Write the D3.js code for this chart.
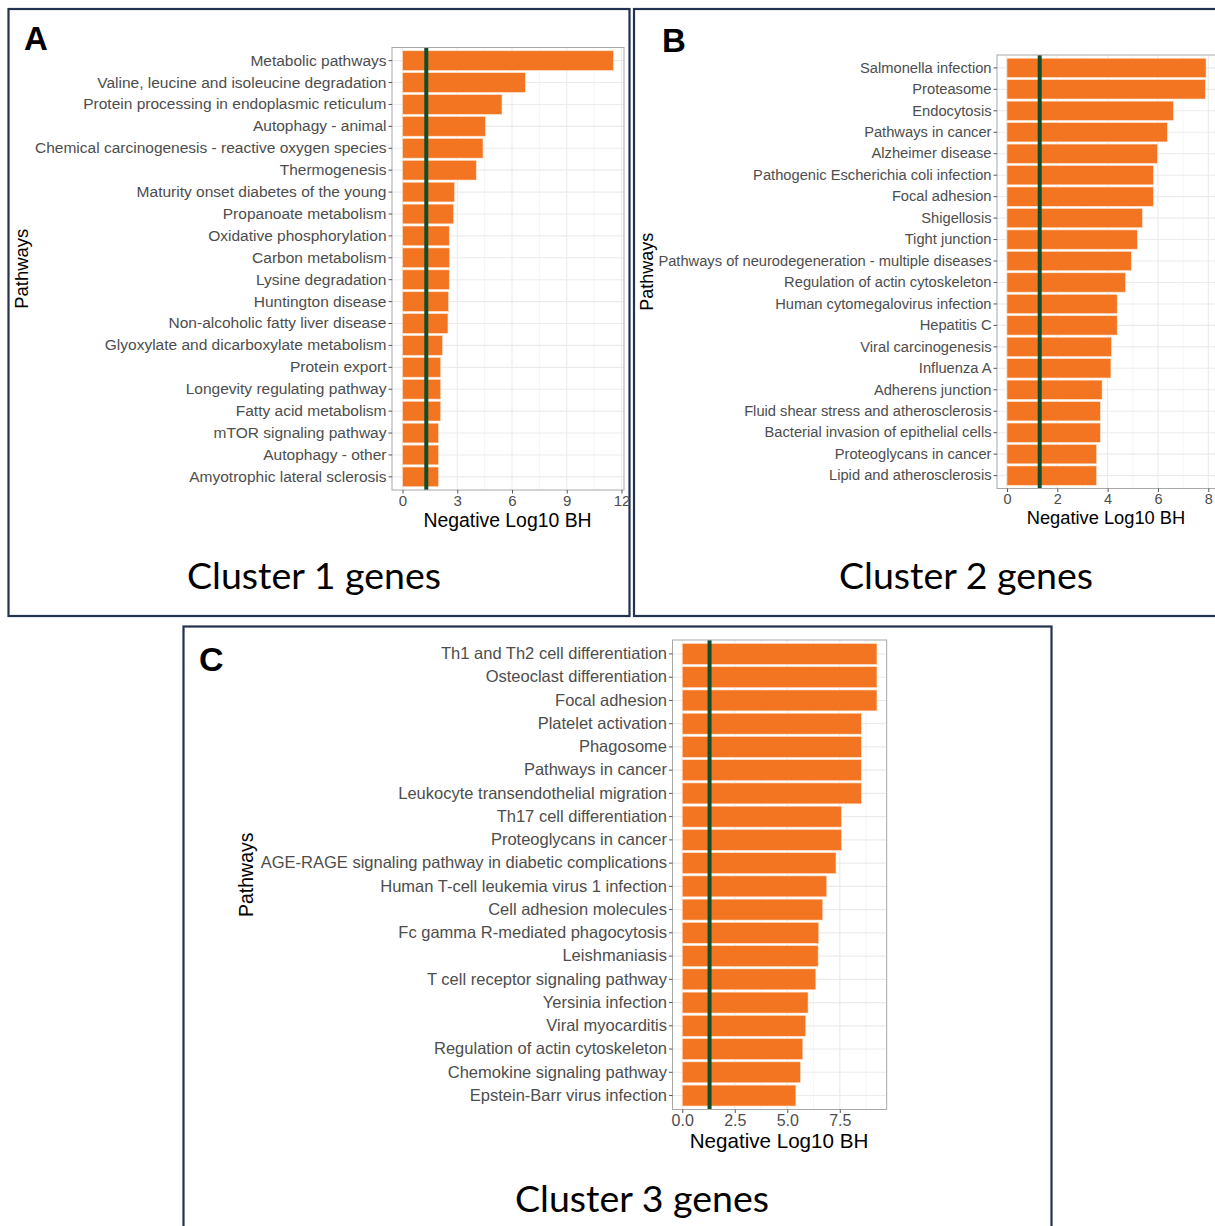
<!DOCTYPE html>
<html>
<head>
<meta charset="utf-8">
<script src="https://cdn.jsdelivr.net/npm/d3@7"></script>
<style>
  html, body { margin: 0; padding: 0; background: #ffffff; }
  svg { display: block; }
</style>
</head>
<body>
<svg id="fig" width="1215" height="1226"></svg>
<script>
// KEGG pathway enrichment per gene cluster (-log10 of BH-adjusted p value)
const pathwaysA = [
  "Metabolic pathways",
  "Valine, leucine and isoleucine degradation",
  "Protein processing in endoplasmic reticulum",
  "Autophagy - animal",
  "Chemical carcinogenesis - reactive oxygen species",
  "Thermogenesis",
  "Maturity onset diabetes of the young",
  "Propanoate metabolism",
  "Oxidative phosphorylation",
  "Carbon metabolism",
  "Lysine degradation",
  "Huntington disease",
  "Non-alcoholic fatty liver disease",
  "Glyoxylate and dicarboxylate metabolism",
  "Protein export",
  "Longevity regulating pathway",
  "Fatty acid metabolism",
  "mTOR signaling pathway",
  "Autophagy - other",
  "Amyotrophic lateral sclerosis"
];
const valuesA = [11.56, 6.73, 5.45, 4.54, 4.41, 4.04, 2.85, 2.80, 2.56, 2.58,
                 2.56, 2.52, 2.49, 2.19, 2.09, 2.09, 2.09, 1.97, 1.97, 1.97];
const ticksA = [0, 3, 6, 9, 12];

const pathwaysB = [
  "Salmonella infection",
  "Proteasome",
  "Endocytosis",
  "Pathways in cancer",
  "Alzheimer disease",
  "Pathogenic Escherichia coli infection",
  "Focal adhesion",
  "Shigellosis",
  "Tight junction",
  "Pathways of neurodegeneration - multiple diseases",
  "Regulation of actin cytoskeleton",
  "Human cytomegalovirus infection",
  "Hepatitis C",
  "Viral carcinogenesis",
  "Influenza A",
  "Adherens junction",
  "Fluid shear stress and atherosclerosis",
  "Bacterial invasion of epithelial cells",
  "Proteoglycans in cancer",
  "Lipid and atherosclerosis"
];
const valuesB = [7.91, 7.88, 6.61, 6.37, 5.98, 5.82, 5.82, 5.38, 5.18, 4.94,
                 4.71, 4.38, 4.38, 4.15, 4.13, 3.78, 3.71, 3.71, 3.56, 3.56];
const ticksB = [0, 2, 4, 6, 8];

const pathwaysC = [
  "Th1 and Th2 cell differentiation",
  "Osteoclast differentiation",
  "Focal adhesion",
  "Platelet activation",
  "Phagosome",
  "Pathways in cancer",
  "Leukocyte transendothelial migration",
  "Th17 cell differentiation",
  "Proteoglycans in cancer",
  "AGE-RAGE signaling pathway in diabetic complications",
  "Human T-cell leukemia virus 1 infection",
  "Cell adhesion molecules",
  "Fc gamma R-mediated phagocytosis",
  "Leishmaniasis",
  "T cell receptor signaling pathway",
  "Yersinia infection",
  "Viral myocarditis",
  "Regulation of actin cytoskeleton",
  "Chemokine signaling pathway",
  "Epstein-Barr virus infection"
];
const valuesC = [9.27, 9.27, 9.27, 8.53, 8.53, 8.53, 8.53, 7.58, 7.58, 7.32,
                 6.88, 6.69, 6.50, 6.47, 6.36, 5.99, 5.88, 5.74, 5.63, 5.41];
const ticksC = [0, 2.5, 5, 7.5];

// significance cut-off: BH = 0.05
const threshold = -Math.log10(0.05);

const panelLetters = ["A", "B", "C"];
const panelTitles = ["Cluster 1 genes", "Cluster 2 genes", "Cluster 3 genes"];
const xTitle = "Negative Log10 BH";
const yTitle = "Pathways";

const svg = d3.select("#fig");
svg.append("rect").attr("width", 1215).attr("height", 1226).attr("fill", "#ffffff");

const FRAME = "#22324f";
const BAR = "#f37521";
const VLINE = "#0f4d2b";
const GRID = "#ebebeb";
const TEXT = "#4d4d4d";
const AXISFONT = "'Liberation Sans', Arial, Helvetica, sans-serif";

function drawPanel(cfg) {
  const g = svg.append("g");

  // outer frame of the panel
  g.append("rect")
    .attr("x", cfg.frame[0]).attr("y", cfg.frame[1])
    .attr("width", cfg.frame[2]).attr("height", cfg.frame[3])
    .attr("fill", "none").attr("stroke", FRAME).attr("stroke-width", 2.2);

  g.append("text")
    .attr("x", cfg.letterPos[0]).attr("y", cfg.letterPos[1])
    .attr("font-family", "'Liberation Sans', Arial, sans-serif")
    .attr("font-weight", "bold").attr("font-size", cfg.letterSize)
    .attr("fill", "#000").text(cfg.letter);

  const maxV = d3.max(cfg.values);
  const x = d3.scaleLinear()
    .domain([-0.05 * maxV, 1.05 * maxV])
    .range([cfg.plot.left, cfg.plot.right]);
  const y = d3.scaleBand()
    .domain(cfg.pathways)
    .range([cfg.plot.top, cfg.plot.bottom])
    .paddingInner(0.1).paddingOuter(0.15);

  const plotG = g.append("g");
  // minor vertical grid (midpoints between major ticks)
  const minor = [];
  const stepT = cfg.ticks[1] - cfg.ticks[0];
  for (let i = 0; i < cfg.ticks.length + 1; i++) {
    const v = cfg.ticks[0] + stepT * (i + 0.5);
    if (v < x.domain()[1]) minor.push(v);
  }
  plotG.selectAll("line.minor").data(minor).join("line")
    .attr("x1", d => x(d)).attr("x2", d => x(d))
    .attr("y1", cfg.plot.top).attr("y2", cfg.plot.bottom)
    .attr("stroke", "#f4f4f4").attr("stroke-width", 0.8);
  plotG.selectAll("line.major").data(cfg.ticks.filter(t => x(t) <= cfg.plot.right)).join("line")
    .attr("x1", d => x(d)).attr("x2", d => x(d))
    .attr("y1", cfg.plot.top).attr("y2", cfg.plot.bottom)
    .attr("stroke", GRID).attr("stroke-width", 1.1);
  plotG.selectAll("line.hgrid").data(cfg.pathways).join("line")
    .attr("x1", cfg.plot.left).attr("x2", cfg.plot.right)
    .attr("y1", d => y(d) + y.bandwidth() / 2).attr("y2", d => y(d) + y.bandwidth() / 2)
    .attr("stroke", GRID).attr("stroke-width", 1.1);

  // bars
  plotG.selectAll("rect.bar").data(cfg.pathways).join("rect")
    .attr("x", x(0))
    .attr("y", d => y(d))
    .attr("width", (d, i) => x(cfg.values[i]) - x(0))
    .attr("height", y.bandwidth())
    .attr("fill", BAR)
    .attr("stroke", "#fde3cf").attr("stroke-width", 0.6);

  // threshold line
  plotG.append("line")
    .attr("x1", x(threshold)).attr("x2", x(threshold))
    .attr("y1", cfg.plot.top).attr("y2", cfg.plot.bottom)
    .attr("stroke", VLINE).attr("stroke-width", 4);

  // panel border
  plotG.append("rect")
    .attr("x", cfg.plot.left).attr("y", cfg.plot.top)
    .attr("width", cfg.plot.right - cfg.plot.left)
    .attr("height", cfg.plot.bottom - cfg.plot.top)
    .attr("fill", "none").attr("stroke", "#a8a8a8").attr("stroke-width", 1);

  // axes
  const fmt = cfg.tickFormat || d3.format("d");
  const xAxis = d3.axisBottom(x).tickValues(cfg.ticks).tickFormat(fmt)
    .tickSize(3.5).tickPadding(2);
  const xg = g.append("g").attr("transform", `translate(0,${cfg.plot.bottom})`).call(xAxis);
  xg.select(".domain").remove();
  xg.selectAll(".tick line").attr("stroke", "#555");
  xg.selectAll(".tick text")
    .attr("font-family", AXISFONT).attr("font-size", cfg.tickSize)
    .attr("fill", TEXT);

  const yAxis = d3.axisLeft(y).tickSize(3.5).tickPadding(2);
  const yg = g.append("g").attr("transform", `translate(${cfg.plot.left},0)`).call(yAxis);
  yg.select(".domain").remove();
  yg.selectAll(".tick line").attr("stroke", "#555");
  yg.selectAll(".tick text")
    .attr("font-family", AXISFONT).attr("font-size", cfg.labelSize)
    .attr("fill", TEXT);

  // axis titles
  g.append("text")
    .attr("x", cfg.xTitleX)
    .attr("y", cfg.xTitleY)
    .attr("text-anchor", "middle")
    .attr("font-family", AXISFONT).attr("font-size", cfg.titleSize)
    .attr("fill", "#000").text(xTitle);

  g.append("text")
    .attr("transform", `translate(${cfg.yTitleX},${(cfg.plot.top + cfg.plot.bottom) / 2}) rotate(-90)`)
    .attr("text-anchor", "middle")
    .attr("font-family", AXISFONT).attr("font-size", cfg.yTitleSize)
    .attr("fill", "#000").text(yTitle);

  // cluster caption
  g.append("text")
    .attr("x", cfg.caption[0]).attr("y", cfg.caption[1])
    .attr("text-anchor", "middle")
    .attr("font-family", "Lato, 'Open Sans', sans-serif")
    .attr("font-size", cfg.captionSize)
    .attr("fill", "#000").text(cfg.title);
}

drawPanel({
  letter: panelLetters[0], title: panelTitles[0],
  pathways: pathwaysA, values: valuesA, ticks: ticksA,
  frame: [8.5, 9, 621, 607],
  letterPos: [24, 50], letterSize: 33,
  plot: { left: 392, right: 624, top: 47.5, bottom: 490 },
  labelSize: 15.5, tickSize: 15, titleSize: 19.4, yTitleSize: 18.5,
  xTitleX: 507.5, xTitleY: 527, yTitleX: 28,
  caption: [314, 589], captionSize: 37.5
});

drawPanel({
  letter: panelLetters[1], title: panelTitles[1],
  pathways: pathwaysB, values: valuesB, ticks: ticksB,
  frame: [634, 9, 600, 607],
  letterPos: [662, 52], letterSize: 33,
  plot: { left: 997, right: 1216, top: 55, bottom: 488.5 },
  labelSize: 14.7, tickSize: 14.5, titleSize: 18.3, yTitleSize: 18,
  xTitleX: 1106, xTitleY: 524, yTitleX: 653,
  caption: [966, 589], captionSize: 37.5
});

drawPanel({
  letter: panelLetters[2], title: panelTitles[2],
  pathways: pathwaysC, values: valuesC, ticks: ticksC,
  tickFormat: d3.format(".1f"),
  frame: [183.5, 626.5, 868, 640],
  letterPos: [199, 671], letterSize: 34,
  plot: { left: 672.5, right: 886.7, top: 640, bottom: 1109.5 },
  labelSize: 16.5, tickSize: 16, titleSize: 20.6, yTitleSize: 19.5,
  xTitleX: 779, xTitleY: 1148, yTitleX: 253,
  caption: [642, 1212], captionSize: 37.5
});
</script>
</body>
</html>
